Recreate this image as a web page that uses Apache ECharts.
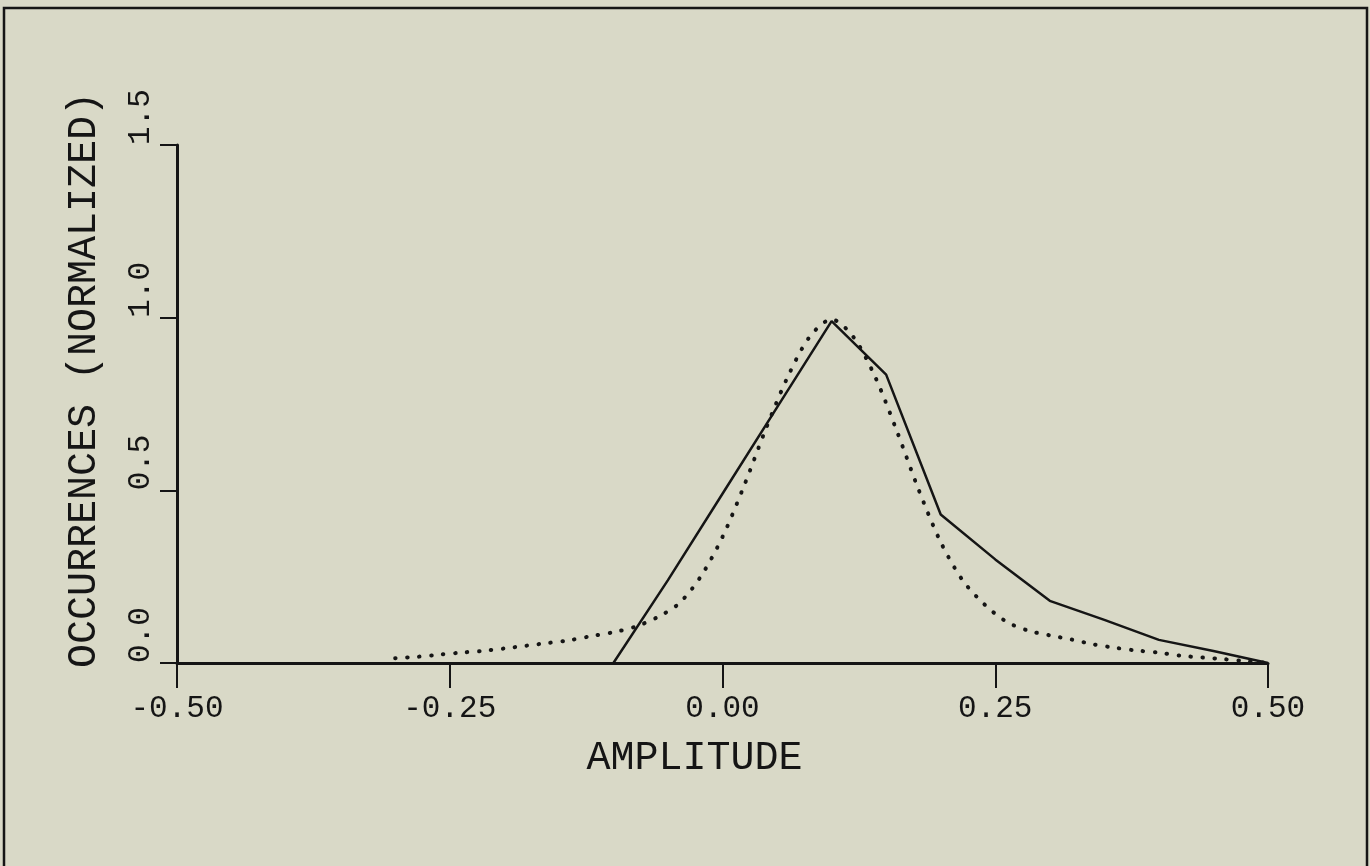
<!DOCTYPE html>
<html>
<head>
    <meta charset="UTF-8">
    <title>Amplitude histogram</title>
    <script src="https://cdn.jsdelivr.net/npm/echarts@6/dist/echarts.min.js"></script>
    <style>
        * { margin: 0; padding: 0; box-sizing: border-box; }
        body { background: #d9d9c7; }
        #chart { width: 1370px; height: 866px; }
    </style>
</head>
<body>
    <div id="chart"></div>
    <script>
        // measured histogram (solid)
        const solidX = [-0.10, -0.05, 0.00, 0.05, 0.10, 0.15, 0.20, 0.25, 0.30, 0.35, 0.40, 0.45, 0.50];
        const solidY = [0.00, 0.24, 0.49, 0.74, 0.99, 0.835, 0.43, 0.30, 0.18, 0.125, 0.067, 0.035, 0.00];

        // reference curve (dotted)
        const dotX = [-0.30, -0.28, -0.26, -0.24, -0.22, -0.20, -0.18, -0.16, -0.14, -0.12, -0.10,
                      -0.08, -0.06, -0.04, -0.02, 0.00, 0.02, 0.04, 0.06, 0.08, 0.10,
                      0.12, 0.14, 0.16, 0.18, 0.20, 0.22, 0.24, 0.26, 0.28, 0.30,
                      0.32, 0.34, 0.36, 0.38, 0.40, 0.42, 0.44, 0.46, 0.48, 0.50];
        const dotY = [0.014, 0.018, 0.024, 0.030, 0.035, 0.042, 0.050, 0.058, 0.066, 0.078, 0.089,
                      0.105, 0.132, 0.172, 0.25, 0.365, 0.515, 0.68, 0.83, 0.945, 0.995,
                      0.944, 0.828, 0.67, 0.50, 0.35, 0.24, 0.17, 0.12, 0.094, 0.080,
                      0.068, 0.054, 0.044, 0.036, 0.030, 0.021, 0.016, 0.011, 0.005, 0.00];

        const xTicks = [-0.50, 0.25];   // min, interval
        const yTicks = [0.0, 1.5, 0.5]; // min, max, interval

        const ink = '#151515';
        const font = '"Liberation Mono", "DejaVu Sans Mono", monospace';

        const chart = echarts.init(document.getElementById('chart'));
        chart.setOption({
            backgroundColor: '#d9d9c7',
            animation: false,
            grid: { left: 177, right: 102, top: 145, bottom: 203 },
            graphic: [{
                type: 'rect',
                shape: { x: 4, y: 8, width: 1363, height: 875 },
                style: { fill: 'none', stroke: ink, lineWidth: 2.5 }
            }],
            xAxis: {
                type: 'value',
                min: xTicks[0],
                max: 0.5,
                interval: xTicks[1],
                name: 'AMPLITUDE',
                nameLocation: 'middle',
                nameGap: 75,
                nameTextStyle: { color: ink, fontFamily: font, fontSize: 40, padding: [0, 56, 0, 0] },
                axisLine: { onZero: false, lineStyle: { color: ink, width: 3 } },
                axisTick: { length: 25, lineStyle: { color: ink, width: 2 } },
                axisLabel: {
                    color: ink, fontFamily: font, fontSize: 31, margin: 30,
                    formatter: v => v.toFixed(2)
                },
                splitLine: { show: false }
            },
            yAxis: {
                type: 'value',
                min: yTicks[0],
                max: yTicks[1],
                interval: yTicks[2],
                name: 'OCCURRENCES (NORMALIZED)',
                nameLocation: 'middle',
                nameRotate: 90,
                nameGap: 73,
                nameTextStyle: { color: ink, fontFamily: font, fontSize: 40, padding: [0, 0, 0, 48] },
                axisLine: { onZero: false, lineStyle: { color: ink, width: 3 } },
                axisTick: { length: 17, lineStyle: { color: ink, width: 2 } },
                axisLabel: {
                    color: ink, fontFamily: font, fontSize: 31, margin: 36,
                    rotate: 90, align: 'left', verticalAlign: 'middle',
                    formatter: v => v.toFixed(1)
                },
                splitLine: { show: false }
            },
            series: [{
                type: 'line',
                data: solidX.map((x, i) => [x, solidY[i]]),
                showSymbol: false,
                lineStyle: { color: ink, width: 2.5 }
            }, {
                type: 'line',
                data: dotX.map((x, i) => [x, dotY[i]]),
                showSymbol: false,
                smooth: 0.3,
                lineStyle: { color: ink, width: 4, type: [0.5, 11.5], cap: 'round' }
            }]
        });
    </script>
</body>
</html>
